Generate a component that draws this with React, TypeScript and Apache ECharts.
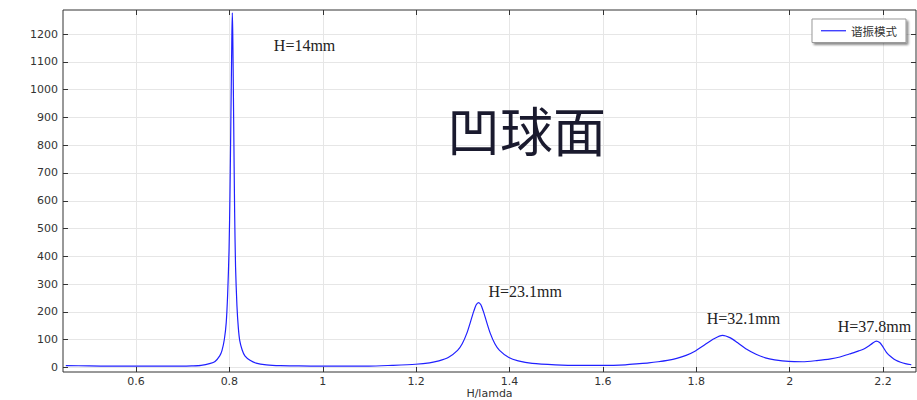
import React, { useEffect, useRef } from "react";
import * as echarts from "echarts";

// H/lambda sample positions and response amplitude
const hOverLambda = [
  0.45, 0.5, 0.55, 0.6, 0.65, 0.7, 0.72, 0.74, 0.76, 0.77, 0.78, 0.785, 0.79, 0.794, 0.797,
  0.8, 0.802, 0.804, 0.806, 0.807, 0.808, 0.81, 0.812, 0.814, 0.817, 0.82, 0.823, 0.828,
  0.834, 0.845, 0.858, 0.88, 0.91, 0.95, 1.0, 1.05, 1.1, 1.15, 1.2, 1.23, 1.25, 1.27, 1.29,
  1.3, 1.31, 1.32, 1.325, 1.33, 1.335, 1.34, 1.345, 1.35, 1.36, 1.37, 1.38, 1.4, 1.42, 1.45,
  1.5, 1.55, 1.6, 1.65, 1.68, 1.7, 1.72, 1.74, 1.76, 1.78, 1.8, 1.82, 1.84, 1.858, 1.875,
  1.89, 1.91, 1.93, 1.95, 1.97, 2.0, 2.03, 2.06, 2.09, 2.11, 2.13, 2.14, 2.15, 2.16, 2.17,
  2.18, 2.188, 2.195, 2.2, 2.21, 2.22, 2.23, 2.24, 2.25, 2.263,
];
const amplitude = [
  5, 4, 3, 3, 3, 3, 4, 6, 13, 20, 40, 60, 100, 160, 260,
  420, 620, 900, 1180, 1276, 1200, 880, 560, 360, 220, 140, 95, 62,
  40, 24, 14, 8, 5, 4, 3, 3, 3, 6, 10, 15, 22, 34, 60,
  84, 122, 175, 202, 224, 232, 224, 202, 175, 122, 84, 60, 34, 22, 13,
  8, 6, 6, 8, 12, 15, 19, 24, 31, 42, 58, 80, 102, 114, 105,
  88, 64, 46, 33, 26, 20, 19, 23, 29, 36, 47, 52, 58, 64, 74,
  86, 93, 88, 78, 52, 36, 24, 17, 12, 8,
];

// peak annotations (text, and data position of its centre)
const peakLabels = ["H=14mm", "H=23.1mm", "H=32.1mm", "H=37.8mm"];
const peakLabelX = [0.962, 1.435, 1.903, 2.184];
const peakLabelY = [1158, 272, 174, 145];

const seriesName = "谐振模式";
const chartTitle = "凹球面";
const xAxisName = "H/lamda";

// axis ranges
const xRange = [0.444, 2.273];
const yRange = [-18, 1286];
const xTickRange = [0.6, 2.2];
const xTickStep = 0.2;
const yTickRange = [0, 1200];
const yTickStep = 100;

export default function App() {
  const ref = useRef<HTMLDivElement>(null);

  useEffect(() => {
    if (!ref.current) return;
    const chart = echarts.init(ref.current, undefined, { renderer: "svg" });
    const labelFont = "DejaVu Sans";
    const gridColor = "#e6e6e6";
    const tickStyle = { show: true, inside: true, length: 5, lineStyle: { color: "#333", width: 1 } };
    const gridBase = { outerBoundsMode: "none", containLabel: false };

    chart.setOption({
      animation: false,
      backgroundColor: "#fff",
      title: {
        text: chartTitle,
        left: 442,
        top: 97,
        textStyle: {
          fontFamily: "Noto Sans CJK SC",
          fontSize: 53,
          fontWeight: "normal",
          color: "#1a1a2e",
        },
      },
      legend: {
        data: [{ name: seriesName, icon: "rect" }],
        right: 11,
        top: 19,
        itemWidth: 25,
        itemHeight: 1.2,
        padding: [6, 9, 6, 9],
        borderColor: "#999",
        borderWidth: 1,
        backgroundColor: "#fff",
        shadowColor: "rgba(0,0,0,0.45)",
        shadowBlur: 2,
        shadowOffsetX: 2,
        shadowOffsetY: 2,
        textStyle: { fontFamily: "Noto Sans CJK SC", fontSize: 11.5, color: "#333" },
      },
      grid: [
        { ...gridBase, left: 63, right: 1, top: 10, bottom: 28, show: true, borderColor: "#333", borderWidth: 1, backgroundColor: "transparent" },
        { ...gridBase, left: 63, right: 1, top: 34, bottom: 32.5 },
        { ...gridBase, left: 136, right: 34, top: 10, bottom: 28 },
      ],
      xAxis: [
        {
          type: "value",
          gridIndex: 0,
          min: xRange[0],
          max: xRange[1],
          name: xAxisName,
          nameLocation: "middle",
          nameGap: 16,
          nameTextStyle: { fontFamily: labelFont, fontSize: 11, lineHeight: 11, color: "#333" },
          axisLine: { show: false },
          axisTick: { show: false },
          axisLabel: { show: false },
          splitLine: { show: false },
        },
        {
          type: "value",
          gridIndex: 1,
          min: 0,
          max: 1,
          show: false,
        },
        {
          type: "value",
          gridIndex: 2,
          position: "bottom",
          min: xTickRange[0],
          max: xTickRange[1],
          interval: xTickStep,
          axisLine: { show: false },
          axisTick: tickStyle,
          axisLabel: { fontFamily: labelFont, fontSize: 11, lineHeight: 11, color: "#333", margin: 4 },
          splitLine: { show: true, lineStyle: { color: gridColor, width: 1 } },
        },
        {
          type: "value",
          gridIndex: 2,
          position: "top",
          min: xTickRange[0],
          max: xTickRange[1],
          interval: xTickStep,
          axisLine: { show: false },
          axisTick: tickStyle,
          axisLabel: { show: false },
          splitLine: { show: false },
        },
      ],
      yAxis: [
        {
          type: "value",
          gridIndex: 0,
          min: yRange[0],
          max: yRange[1],
          axisLine: { show: false },
          axisTick: { show: false },
          axisLabel: { show: false },
          splitLine: { show: false },
        },
        {
          type: "value",
          gridIndex: 1,
          position: "left",
          min: yTickRange[0],
          max: yTickRange[1],
          interval: yTickStep,
          axisLine: { show: false },
          axisTick: tickStyle,
          axisLabel: {
            fontFamily: labelFont,
            fontSize: 11,
            color: "#333",
            margin: 5,
            formatter: (v: number) => String(v),
          },
          splitLine: { show: true, lineStyle: { color: gridColor, width: 1 } },
        },
        {
          type: "value",
          gridIndex: 1,
          position: "right",
          min: yTickRange[0],
          max: yTickRange[1],
          interval: yTickStep,
          axisLine: { show: false },
          axisTick: tickStyle,
          axisLabel: { show: false },
          splitLine: { show: false },
        },
        {
          type: "value",
          gridIndex: 2,
          min: 0,
          max: 1,
          show: false,
        },
      ],
      series: [
        {
          name: seriesName,
          type: "line",
          xAxisIndex: 0,
          yAxisIndex: 0,
          data: hOverLambda.map((x, i) => [x, amplitude[i]]),
          symbol: "none",
          smooth: 0.25,
          lineStyle: { color: "#2020ff", width: 1.2 },
          itemStyle: { color: "#2020ff" },
          z: 5,
          markPoint: {
            silent: true,
            symbol: "rect",
            symbolSize: 1,
            itemStyle: { color: "rgba(0,0,0,0)" },
            label: {
              show: true,
              position: "inside",
              formatter: "{b}",
              fontFamily: "Liberation Serif",
              fontSize: 16,
              color: "#222",
            },
            data: peakLabels.map((t, i) => ({ name: t, coord: [peakLabelX[i], peakLabelY[i]] })),
          },
        },
      ],
    });

    return () => chart.dispose();
  }, []);

  return (
    <div
      ref={ref}
      style={{ position: "fixed", left: 0, top: 0, width: 917, height: 400 }}
    />
  );
}
